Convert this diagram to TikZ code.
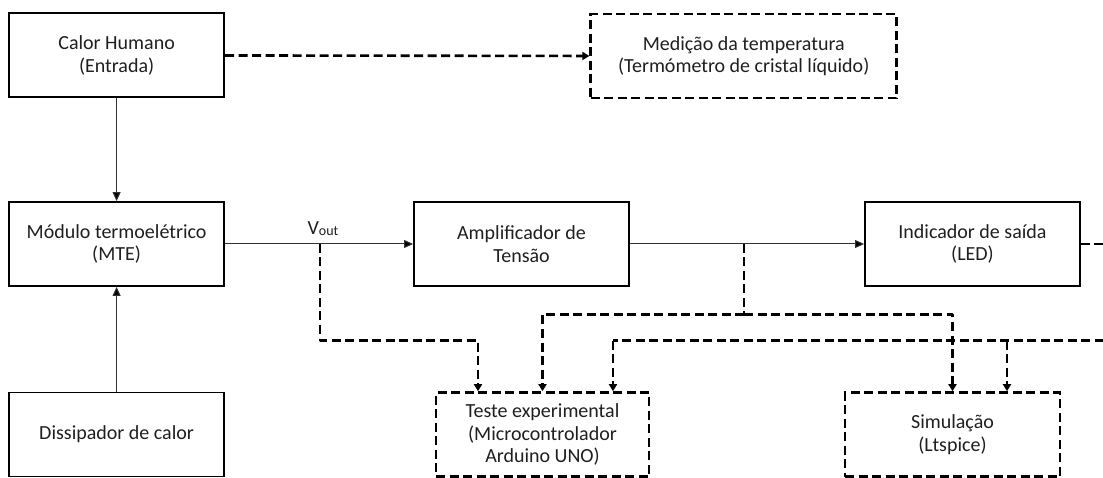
\documentclass[tikz,border=0pt]{standalone}
\usepackage{fontspec}
\setmainfont{Carlito}
\usetikzlibrary{arrows.meta}
\begin{document}
\begin{tikzpicture}[x=1pt,y=-1pt,
  solidbox/.style={draw=black,line width=1.8pt,minimum width=215pt,minimum height=84pt,
    inner sep=0pt,align=center,font=\fontsize{20}{22.6}\selectfont,text=black!88},
  dashbox/.style={solidbox,line width=2.6pt,dash pattern=on 9pt off 4.5pt},
  flow/.style={draw=black!80,line width=1pt,-{Triangle[length=9pt,width=8pt,fill=black]}},
  dline/.style={draw=black,line width=2.6pt,dash pattern=on 9pt off 4.5pt,line join=round},
  dflow/.style={dline,-{Triangle[length=7pt,width=8pt]}}
]
\useasboundingbox (0,0) rectangle (1103,478);
\clip (0,0) rectangle (1103,478);

% blocks
\node[solidbox] (calor) at (116.6,55.3) {Calor Humano\\(Entrada)};
\node[dashbox,minimum width=306pt] (med) at (743.7,56.2) {Medição da temperatura\\(Termómetro de cristal líquido)};
\node[solidbox] (mte) at (116.6,244) {Módulo termoelétrico\\(MTE)};
\node[solidbox] (amp) at (521.5,244) {Amplificador de\\Tensão};
\node[solidbox] (led) at (972.5,244) {Indicador de saída\\(LED)};
\node[solidbox] (diss) at (116.6,434.5) {Dissipador de calor};
\node[dashbox,minimum width=213pt] (teste) at (542.5,434.5) {Teste experimental\\(Microcontrolador\\Arduino UNO)};
\node[dashbox] (sim) at (952.5,434.5) {Simulação\\(Ltspice)};

% main signal chain
\draw[flow] (calor) -- (mte);
\draw[flow] (diss) -- (mte);
\draw[flow] (mte) -- (amp);
\draw[flow] (amp) -- (led);
\node[text=black!88,inner sep=0pt] (voutlbl) at (323,229)
  {\fontsize{20}{22}\selectfont V\fontsize{14}{16}\selectfont\raisebox{-1pt}{out}};

% dashed measurement paths
\draw[dflow] (calor) -- (med);

\coordinate (vtap) at (320,244);
\coordinate (vbend) at (478,340.5);
\draw[dflow] (vtap) |- (vbend) -- (vbend |- teste.north);

\coordinate (atap) at (744,244);
\coordinate (ajoin) at (744,314.5);
\draw[dline] (atap) -- (ajoin);
\draw[dflow] (ajoin) -| (teste.north);
\draw[dflow] (ajoin) -| (sim.north);

\coordinate (lright) at (1125,244);
\coordinate (lbottom) at (1125,340.5);
\coordinate (lteste) at (613,340.5);
\coordinate (lsim) at (1007,340.5);
\draw[dline] (led.east) -- (lright) -- (lbottom) -- (lteste);
\draw[dflow] (lteste) -- (lteste |- teste.north);
\draw[dflow] (lsim) -- (lsim |- sim.north);
\end{tikzpicture}
\end{document}
